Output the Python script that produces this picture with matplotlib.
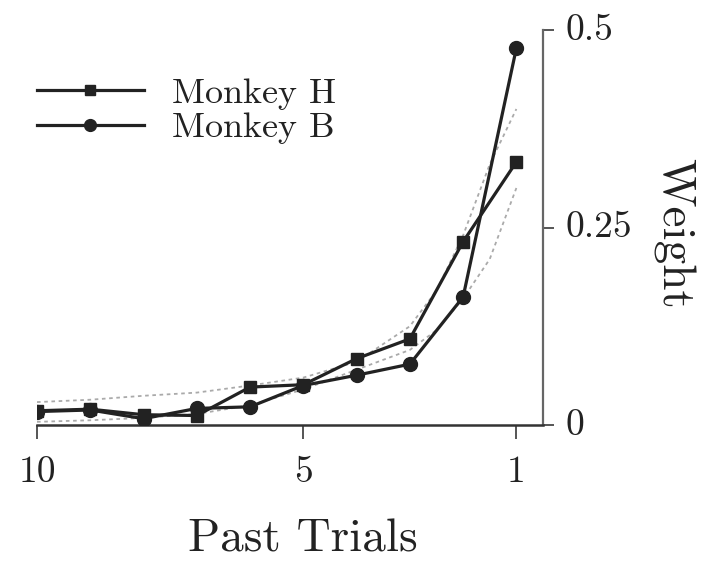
import matplotlib
matplotlib.use("Agg")
import matplotlib.pyplot as plt

# Regression weights of past trials for each monkey
past_trials = [10, 9, 8, 7, 6, 5, 4, 3, 2, 1]
weight_h = [0.018, 0.020, 0.013, 0.012, 0.048, 0.051, 0.084, 0.109, 0.232, 0.333]
weight_b = [0.017, 0.019, 0.008, 0.021, 0.023, 0.050, 0.063, 0.077, 0.162, 0.477]

# Faint fitted curves behind the data
fit_x = [10, 9, 8, 7, 6, 5, 4, 3, 2.5, 2, 1.5, 1]
fit_upper = [0.029, 0.032, 0.037, 0.041, 0.050, 0.060, 0.080, 0.125, 0.170, 0.240, 0.330, 0.400]
fit_lower = [0.004, 0.006, 0.009, 0.014, 0.025, 0.045, 0.070, 0.095, 0.120, 0.160, 0.210, 0.300]

x_ticks = [10, 5, 1]
x_tick_labels = ["10", "5", "1"]
y_ticks = [0, 0.25, 0.5]
y_tick_labels = ["0", "0.25", "0.5"]

plt.rcParams["font.family"] = ["cmr10", "DejaVu Serif"]
plt.rcParams["axes.unicode_minus"] = False

fig = plt.figure(figsize=(7.11, 5.63), dpi=100)
ax = fig.add_axes([37 / 711, 1 - 425 / 563, (543 - 37) / 711, (425 - 30) / 563])

ink = "#222222"
ax.plot(fit_x, fit_upper, color="#aaaaaa", lw=1.3, ls=(0, (2, 2)), zorder=1)
ax.plot(fit_x, fit_lower, color="#aaaaaa", lw=1.3, ls=(0, (2, 2)), zorder=1)
ax.plot(past_trials, weight_h, color=ink, lw=2.3, marker="s", ms=9,
        label="Monkey H", zorder=3)
ax.plot(past_trials, weight_b, color=ink, lw=2.3, marker="o", ms=10,
        label="Monkey B", zorder=3)

ax.set_xlim(10, 0.5)
ax.set_ylim(0, 0.5)

for side in ("top", "left"):
    ax.spines[side].set_visible(False)
ax.spines["right"].set_color("#666666")
ax.spines["right"].set_linewidth(1.6)
ax.spines["bottom"].set_color("#333333")
ax.spines["bottom"].set_linewidth(1.8)

ax.yaxis.tick_right()
ax.set_xticks(x_ticks)
ax.set_xticklabels(x_tick_labels)
ax.set_yticks(y_ticks)
ax.set_yticklabels(y_tick_labels)
ax.tick_params(axis="x", direction="out", length=10, width=1.4, color="#555555",
               labelsize=27, pad=12, labelcolor=ink)
ax.tick_params(axis="y", direction="out", length=8, width=1.4, color="#555555",
               labelsize=27, pad=8, labelcolor=ink)
for lbl in ax.get_yticklabels():
    lbl.set_verticalalignment("center")

fig.text(303 / 711, 1 - 540 / 563, "Past Trials", ha="center", va="center",
         fontsize=34, color=ink)
fig.text(673 / 711, 1 - 233 / 563, "Weight", ha="center", va="center",
         rotation=270, fontsize=34, color=ink)

leg = ax.legend(loc="center left", bbox_to_anchor=(0.0, (425 - 111) / 395),
                frameon=False, fontsize=26, handlelength=2.95,
                handletextpad=0.8, labelspacing=0.05, borderaxespad=0.0,
                borderpad=0.0, markerscale=0.85, labelcolor=ink)

fig.savefig("out.png", dpi=100, facecolor="white")
